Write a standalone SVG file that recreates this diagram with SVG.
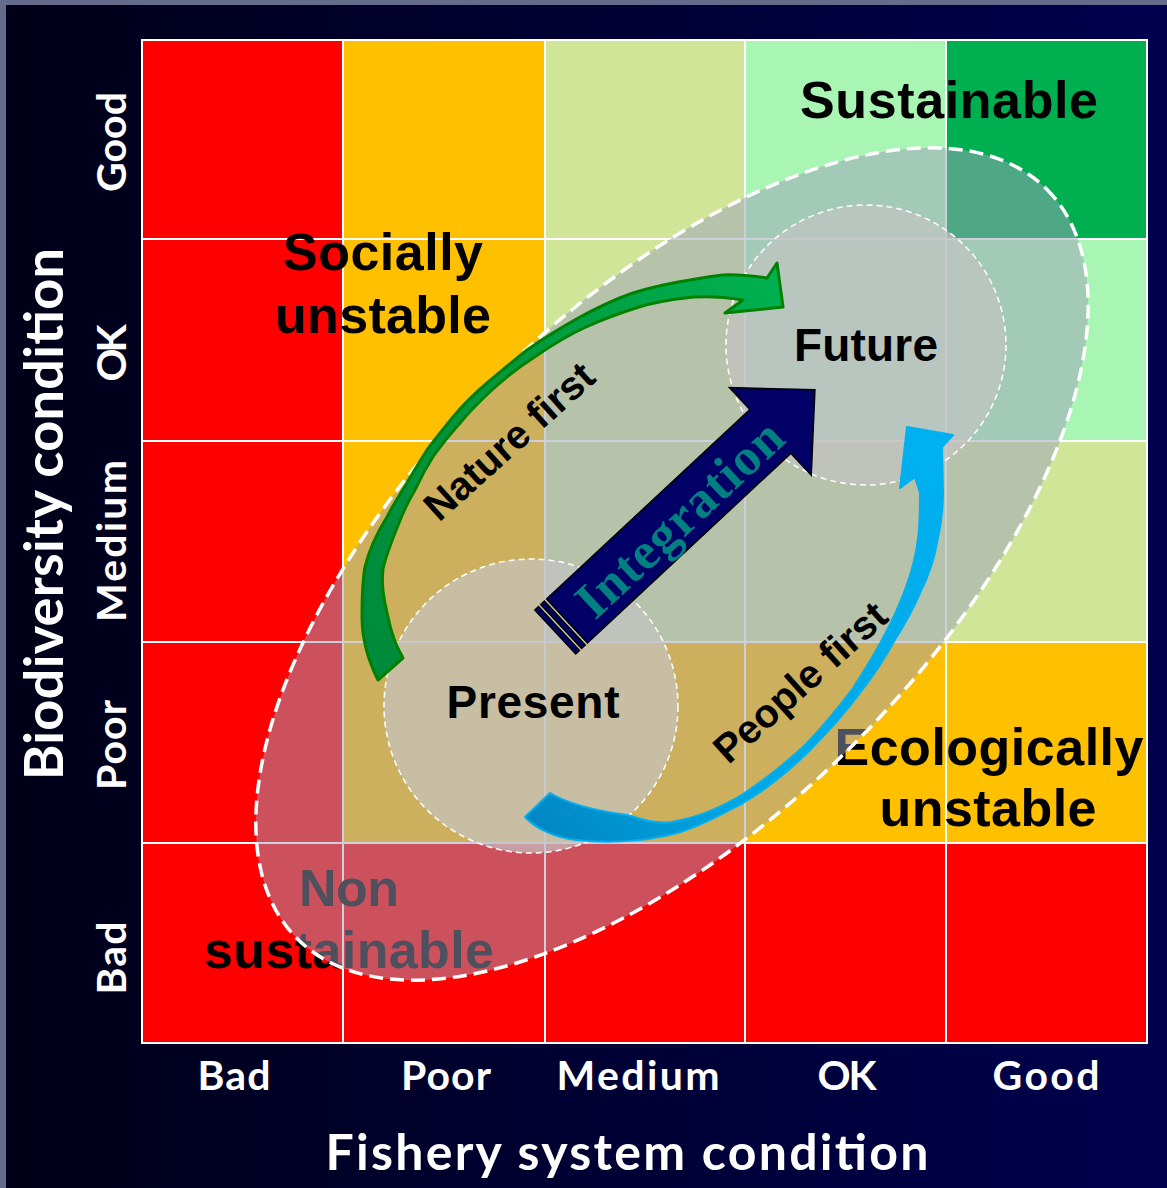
<svg xmlns="http://www.w3.org/2000/svg" width="1167" height="1188" viewBox="0 0 1167 1188">
<defs>
<linearGradient id="bg" x1="0" y1="0" x2="1" y2="0">
<stop offset="0" stop-color="#000018"/>
<stop offset="1" stop-color="#00004E"/>
</linearGradient>
<linearGradient id="gGreen" gradientUnits="userSpaceOnUse" x1="390" y1="670" x2="780" y2="290">
<stop offset="0" stop-color="#008A3C"/>
<stop offset="0.6" stop-color="#009A40"/>
<stop offset="1" stop-color="#00B050"/>
</linearGradient>
<linearGradient id="gBlue" gradientUnits="userSpaceOnUse" x1="530" y1="815" x2="940" y2="450">
<stop offset="0" stop-color="#0088C4"/>
<stop offset="0.3" stop-color="#00A6E4"/>
<stop offset="1" stop-color="#00B0F0"/>
</linearGradient>
</defs>
<style>
.r{fill:#FF0000}.o{fill:#FFC000}.y{fill:#D1E599}.l{fill:#A8F5B4}.g{fill:#00B050}
.cells rect{stroke:#FFFFFF;stroke-width:2}
.zone{font-family:"Liberation Sans",Arial,sans-serif;font-weight:bold;font-size:52px;fill:#000000;text-anchor:middle}
.node-label{font-family:"Liberation Sans",Arial,sans-serif;font-weight:bold;font-size:46px;fill:#000000;text-anchor:middle}
.axis{font-family:Lato,"Open Sans",sans-serif;font-weight:bold;fill:#FFFFFF;text-anchor:middle}
.tick{font-size:41px}
.arrow-label{font-family:"Liberation Sans",Arial,sans-serif;font-weight:bold;font-size:40px;fill:#000000;text-anchor:middle}
.circle{fill:#C4C4C4;fill-opacity:0.68;stroke:#FFFFFF;stroke-width:1.5;stroke-dasharray:6 4}
.integ{fill:#000066;stroke:#000000;stroke-width:1.5}
</style>

<rect x="0" y="0" width="1167" height="1188" fill="url(#bg)"/>
<rect x="0" y="0" width="1167" height="5" fill="#656B8B"/>
<rect x="0" y="0" width="6" height="1188" fill="#656B8B"/>

<g id="grid" class="cells">
<rect class="r" x="142" y="40" width="201" height="199"/>
<rect class="o" x="343" y="40" width="202" height="199"/>
<rect class="y" x="545" y="40" width="200" height="199"/>
<rect class="l" x="745" y="40" width="201" height="199"/>
<rect class="g" x="946" y="40" width="201" height="199"/>
<rect class="r" x="142" y="239" width="201" height="202"/>
<rect class="o" x="343" y="239" width="202" height="202"/>
<rect class="y" x="545" y="239" width="200" height="202"/>
<rect class="l" x="745" y="239" width="201" height="202"/>
<rect class="l" x="946" y="239" width="201" height="202"/>
<rect class="r" x="142" y="441" width="201" height="201"/>
<rect class="o" x="343" y="441" width="202" height="201"/>
<rect class="y" x="545" y="441" width="200" height="201"/>
<rect class="y" x="745" y="441" width="201" height="201"/>
<rect class="y" x="946" y="441" width="201" height="201"/>
<rect class="r" x="142" y="642" width="201" height="201"/>
<rect class="o" x="343" y="642" width="202" height="201"/>
<rect class="o" x="545" y="642" width="200" height="201"/>
<rect class="o" x="745" y="642" width="201" height="201"/>
<rect class="o" x="946" y="642" width="201" height="201"/>
<rect class="r" x="142" y="843" width="201" height="200"/>
<rect class="r" x="343" y="843" width="202" height="200"/>
<rect class="r" x="545" y="843" width="200" height="200"/>
<rect class="r" x="745" y="843" width="201" height="200"/>
<rect class="r" x="946" y="843" width="201" height="200"/>
</g>

<g id="zone-socially-unstable">
<text class="zone" x="383" y="270" textLength="200" lengthAdjust="spacing">Socially</text>
<text class="zone" x="383" y="333" textLength="216" lengthAdjust="spacing">unstable</text>
</g>
<g id="zone-ecologically-unstable">
<text class="zone" x="989" y="765" textLength="309" lengthAdjust="spacing">Ecologically</text>
<text class="zone" x="988" y="826" textLength="217" lengthAdjust="spacing">unstable</text>
</g>
<g id="zone-non-sustainable">
<text class="zone" x="349" y="906" textLength="100" lengthAdjust="spacing">Non</text>
<text class="zone" x="349" y="968" textLength="290" lengthAdjust="spacing">sustainable</text>
</g>

<g id="zone-path">
<ellipse cx="672" cy="564" rx="530" ry="256" transform="rotate(-45 672 564)" fill="#9BA0B9" fill-opacity="0.5" stroke="#FFFFFF" stroke-width="3.5" stroke-dasharray="14 7"/>
</g>

<g id="zone-sustainable">
<text class="zone" x="949" y="118" textLength="298" lengthAdjust="spacing">Sustainable</text>
</g>

<g id="node-present">
<circle class="circle" cx="531" cy="706" r="147"/>
<text class="node-label" x="533" y="718" textLength="173" lengthAdjust="spacing">Present</text>
</g>
<g id="node-future">
<circle class="circle" cx="866" cy="345" r="140"/>
<text class="node-label" x="866" y="361" textLength="144" lengthAdjust="spacing">Future</text>
</g>

<g id="connectors">
<g id="arrow-nature-first">
<path d="M378,680 C368,660 362,640 362,617 C362,600 362,583 365,567 C369,550 377,533 387,517 C393,505 400,494 407,483 C413,472 420,461 427,450 C435,439 444,428 453,417 C463,405 474,394 487,383 C500,372 513,361 527,350 C544,338 562,327 580,317 C597,308 615,299 633,293 C652,287 671,283 690,280 C701,278 712,276 723,275 C738,274 752,276 767,278 L777,263 L783,307 L725,313 L743,300 C725,297 710,296 693,297 C675,299 655,302 639,307 C620,313 603,319 586,327 C566,336 549,347 533,358 C519,367 505,378 493,389 C481,400 470,411 460,423 C450,434 442,444 434,455 C427,466 421,477 416,488 C409,500 403,512 399,523 C392,540 386,555 383,569 C381,585 384,600 388,617 C391,632 397,648 403,658 Z" fill="url(#gGreen)" stroke="#008000" stroke-width="3" stroke-linejoin="round"/>
<text class="arrow-label" transform="translate(509,441) rotate(-42)" x="0" y="14">Nature first</text>
</g>
<g id="arrow-people-first">
<path d="M525,817 C535,828 555,838 577,840 C600,843 640,843 677,833 C700,826 720,815 743,803 C765,790 790,770 810,750 C828,732 846,712 860,693 C873,676 884,660 893,643 C903,627 913,610 920,593 C928,577 934,560 937,543 C941,526 943,510 943,493 L942,447 L953,435 L907,427 L900,488 L915,477 L920,493 C920,510 920,524 918,539 C916,555 912,571 906,587 C900,604 892,621 883,638 C874,655 864,671 853,688 C839,707 823,726 806,744 C786,763 763,781 740,796 C718,809 695,818 672,822 C655,824 640,819 627,815 C605,812 570,805 550,793 Z" fill="url(#gBlue)" stroke="#00B0F0" stroke-width="2" stroke-linejoin="round"/>
<text class="arrow-label" transform="translate(800,682) rotate(-42)" x="0" y="14">People first</text>
</g>
<g id="arrow-integration" transform="translate(567,621) rotate(-43)">
<polygon class="integ" points="0,-30 278,-30 278,-60 339,0 278,60 278,30 0,30"/>
<rect class="integ" x="-8" y="-30" width="5" height="60"/>
<rect class="integ" x="-16" y="-30" width="5" height="60"/>
<text x="152" y="19" text-anchor="middle" textLength="263" lengthAdjust="spacing" font-family="'Liberation Serif','Times New Roman',serif" font-weight="bold" font-size="52" fill="#008080">Integration</text>
</g>
</g>

<g id="axis-x">
<text class="axis tick" x="234" y="1090" textLength="73" lengthAdjust="spacing">Bad</text>
<text class="axis tick" x="446" y="1090" textLength="90" lengthAdjust="spacing">Poor</text>
<text class="axis tick" x="638" y="1090" textLength="163" lengthAdjust="spacing">Medium</text>
<text class="axis tick" x="847" y="1090" textLength="59" lengthAdjust="spacing">OK</text>
<text class="axis tick" x="1046" y="1090" textLength="107" lengthAdjust="spacing">Good</text>
<text class="axis" x="627" y="1170" font-size="50" textLength="603" lengthAdjust="spacing">Fishery system condition</text>
</g>
<g id="axis-y">
<text class="axis tick" transform="translate(126,142) rotate(-90)" x="0" y="0" textLength="100" lengthAdjust="spacing">Good</text>
<text class="axis tick" transform="translate(126,353) rotate(-90)" x="0" y="0" textLength="57" lengthAdjust="spacing">OK</text>
<text class="axis tick" transform="translate(126,541) rotate(-90)" x="0" y="0" textLength="162" lengthAdjust="spacing">Medium</text>
<text class="axis tick" transform="translate(126,745) rotate(-90)" x="0" y="0" textLength="90" lengthAdjust="spacing">Poor</text>
<text class="axis tick" transform="translate(126,958) rotate(-90)" x="0" y="0" textLength="73" lengthAdjust="spacing">Bad</text>
<text class="axis" transform="translate(63,514) rotate(-90)" x="0" y="0" font-size="54" textLength="532" lengthAdjust="spacing">Biodiversity condition</text>
</g>
</svg>
